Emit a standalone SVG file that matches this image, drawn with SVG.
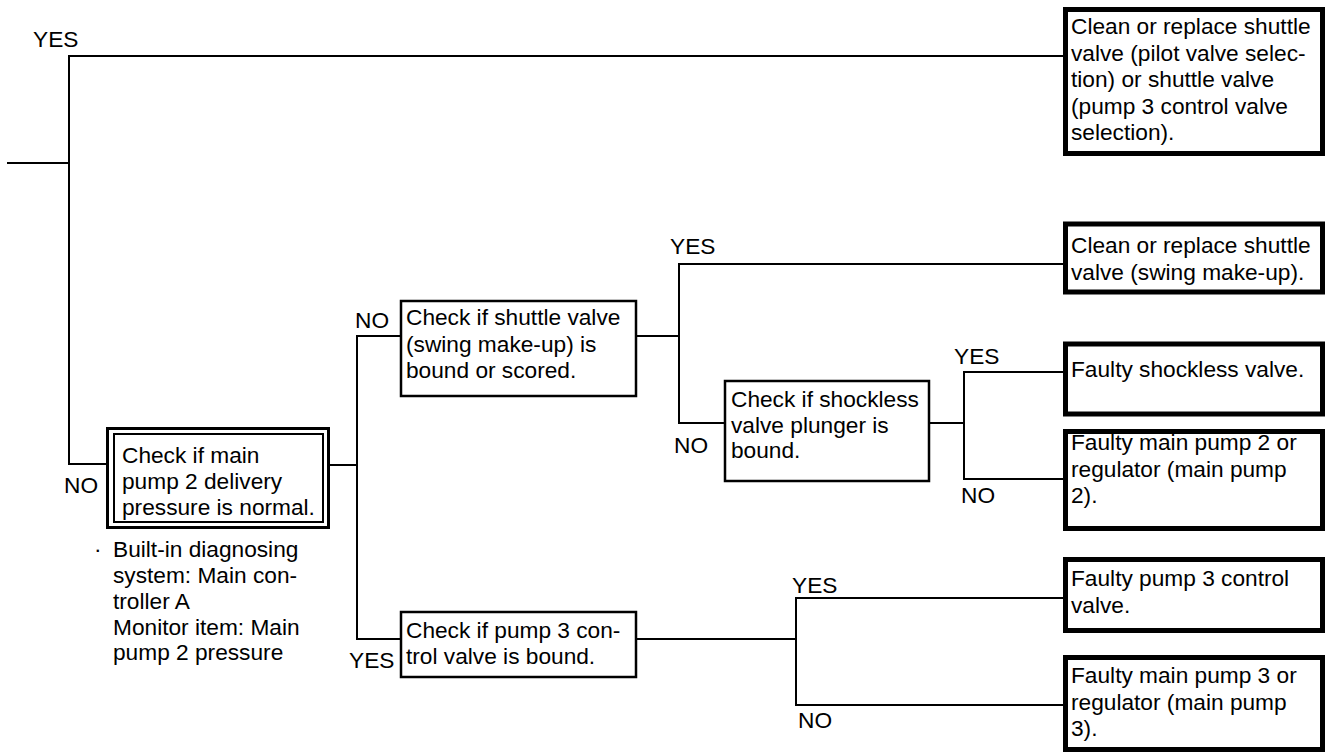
<svg xmlns="http://www.w3.org/2000/svg" width="1329" height="754" viewBox="0 0 1329 754">
<style>
text{font-family:"Liberation Sans",Arial,sans-serif;font-size:22.7px;fill:#000}
.c{fill:none;stroke:#000;stroke-width:2}
.dec{fill:#fff;stroke:#000;stroke-width:2.5}
.res{fill:#fff;stroke:#000;stroke-width:5}
</style>
<rect width="1329" height="754" fill="#fff"/>
<g id="connectors" class="c">
<path class="c" d="M7 163H69"/>
<path class="c" d="M1063 56H69V464H107"/>
<path class="c" d="M329 465H357"/>
<path class="c" d="M401 336H357V639H401"/>
<path class="c" d="M636 336H679"/>
<path class="c" d="M1063 264H679V423H725"/>
<path class="c" d="M929 423H964"/>
<path class="c" d="M1063 372H964V479H1063"/>
<path class="c" d="M636 639H796"/>
<path class="c" d="M1063 598H796V705H1063"/>
</g>
<g id="labels">
<text x="33" y="47">YES</text>
<text x="64" y="493">NO</text>
<text x="355" y="328">NO</text>
<text x="349" y="668">YES</text>
<text x="670" y="254">YES</text>
<text x="674" y="453">NO</text>
<text x="954" y="364">YES</text>
<text x="961" y="503">NO</text>
<text x="792" y="593">YES</text>
<text x="798" y="728">NO</text>
</g>
<g id="start">
<rect x="107.5" y="428.5" width="221" height="99" fill="#fff" stroke="#000" stroke-width="3"/>
<rect x="114" y="434" width="209" height="88" fill="none" stroke="#000" stroke-width="2"/>
<text x="122" y="463">Check if main</text>
<text x="122" y="489">pump 2 delivery</text>
<text x="122" y="515">pressure is normal.</text>
</g>
<g id="note">
<text x="94" y="557">·</text>
<text x="113" y="557">Built-in diagnosing</text>
<text x="113" y="583">system: Main con-</text>
<text x="113" y="609">troller A</text>
<text x="113" y="635">Monitor item: Main</text>
<text x="113" y="660">pump 2 pressure</text>
</g>
<g id="check-shuttle">
<rect class="dec" x="401" y="301" width="235" height="95"/>
<text x="406" y="325">Check if shuttle valve</text>
<text x="406" y="352">(swing make-up) is</text>
<text x="406" y="378">bound or scored.</text>
</g>
<g id="check-shockless">
<rect class="dec" x="725" y="381" width="204" height="100"/>
<text x="731" y="407">Check if shockless</text>
<text x="731" y="433">valve plunger is</text>
<text x="731" y="458">bound.</text>
</g>
<g id="check-pump3">
<rect class="dec" x="401" y="612" width="235" height="65"/>
<text x="406" y="638">Check if pump 3 con-</text>
<text x="406" y="664">trol valve is bound.</text>
</g>
<g id="res-pilot">
<rect class="res" x="1065.5" y="9.5" width="257" height="144"/>
<text x="1071" y="34">Clean or replace shuttle</text>
<text x="1071" y="61">valve (pilot valve selec-</text>
<text x="1071" y="87">tion) or shuttle valve</text>
<text x="1071" y="114">(pump 3 control valve</text>
<text x="1071" y="140">selection).</text>
</g>
<g id="res-swing">
<rect class="res" x="1065.5" y="224" width="257" height="68"/>
<text x="1071" y="253">Clean or replace shuttle</text>
<text x="1071" y="280">valve (swing make-up).</text>
</g>
<g id="res-shockless">
<rect class="res" x="1065.5" y="344" width="257" height="70"/>
<text x="1071" y="377">Faulty shockless valve.</text>
</g>
<g id="res-pump2">
<rect class="res" x="1065.5" y="431.5" width="257" height="97"/>
<text x="1071" y="450">Faulty main pump 2 or</text>
<text x="1071" y="477">regulator (main pump</text>
<text x="1071" y="503">2).</text>
</g>
<g id="res-pump3cv">
<rect class="res" x="1065.5" y="559.5" width="257" height="71"/>
<text x="1071" y="586">Faulty pump 3 control</text>
<text x="1071" y="613">valve.</text>
</g>
<g id="res-pump3">
<rect class="res" x="1065.5" y="657.5" width="257" height="92"/>
<text x="1071" y="683">Faulty main pump 3 or</text>
<text x="1071" y="710">regulator (main pump</text>
<text x="1071" y="736">3).</text>
</g>
</svg>
